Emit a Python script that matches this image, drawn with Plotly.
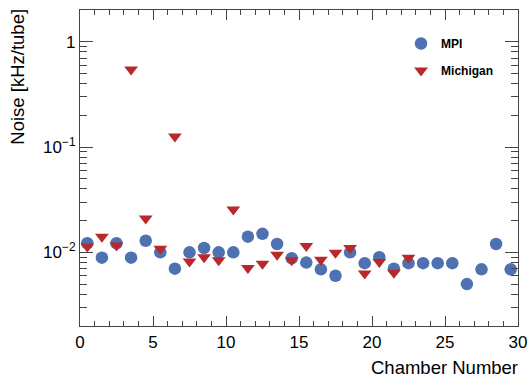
import plotly.graph_objects as go

mpi_x = [i + 0.5 for i in range(30)]
mpi_y = [0.0122, 0.0089, 0.0122, 0.0089, 0.0129, 0.0100, 0.0070, 0.0100, 0.0110, 0.0100,
         0.0100, 0.0141, 0.0150, 0.0120, 0.0088, 0.0080, 0.0069, 0.0060, 0.0100, 0.0079,
         0.0090, 0.0070, 0.0079, 0.0079, 0.0079, 0.0079, 0.0050, 0.0069, 0.0120, 0.0069]
mich_x = [i + 0.5 for i in range(23)]
mich_y = [0.0114, 0.0141, 0.0116, 0.545, 0.0210, 0.0108, 0.126, 0.0082, 0.0090, 0.0084,
          0.0255, 0.0071, 0.0078, 0.0095, 0.0084, 0.0115, 0.0085, 0.0099, 0.0110, 0.0063,
          0.0081, 0.0064, 0.0089]

x_ticks = [0, 5, 10, 15, 20, 25, 30]
y_ticks = [0.01, 0.1, 1]
y_ticktext = ["10<sup>−2</sup>", "10<sup>−1</sup>", "1"]
y_minor = [m * d for d in (0.001, 0.01, 0.1, 1) for m in range(2, 10) if 0.002 <= m * d <= 2]

blue = "#4D71B1"
red = "#B9282B"
font = "Liberation Sans, Arial, Helvetica, sans-serif"

fig = go.Figure()
fig.add_trace(go.Scatter(x=mpi_x, y=mpi_y, mode="markers", name="<b>MPI</b>",
                         legendgroup="a",
                         marker=dict(symbol="circle", size=12.5, color=blue)))
fig.add_trace(go.Scatter(x=mich_x, y=mich_y, mode="markers", name="<b>Michigan</b>",
                         legendgroup="b",
                         marker=dict(symbol="triangle-down", size=12, color=red)))

axis_common = dict(showline=True, linecolor="#444", linewidth=1.2, mirror="ticks",
                   ticks="inside", tickcolor="#444", tickwidth=1.2,
                   showgrid=False, zeroline=False,
                   tickfont=dict(family=font, size=17, color="black"))

fig.update_xaxes(range=[0, 30], tickvals=x_ticks, ticklen=10,
                 minor=dict(dtick=1, tick0=0, ticks="inside", ticklen=5,
                            tickcolor="#444", tickwidth=1.2, showgrid=False),
                 **axis_common)
fig.update_yaxes(type="log", range=[-2.699, 0.301], tickvals=y_ticks, ticktext=y_ticktext,
                 ticklen=13,
                 minor=dict(tickmode="array", tickvals=y_minor, ticks="inside", ticklen=7,
                            tickcolor="#444", tickwidth=1.2, showgrid=False),
                 **axis_common)

fig.add_annotation(text="Chamber Number", xref="paper", yref="paper", x=1.005, y=-0.172,
                   xanchor="right", yanchor="bottom", showarrow=False,
                   font=dict(family=font, size=18.5, color="black"))
fig.add_annotation(text="Noise [kHz/tube]", xref="paper", yref="paper", x=-0.142, y=1.01,
                   xanchor="center", yanchor="top", textangle=-90, showarrow=False,
                   font=dict(family=font, size=18.5, color="black"))

fig.update_layout(
    width=529, height=381,
    margin=dict(l=80, r=11, t=10, b=55, autoexpand=False),
    plot_bgcolor="white", paper_bgcolor="white",
    showlegend=True,
    legend=dict(x=0.733, y=0.94, xanchor="left", yanchor="top",
                bgcolor="rgba(0,0,0,0)", tracegroupgap=8,
                font=dict(family=font, size=12, color="black")),
)

fig.write_html("out.html", config={"displayModeBar": False},
               post_script="document.body.style.margin='0';document.body.style.overflow='hidden';")
